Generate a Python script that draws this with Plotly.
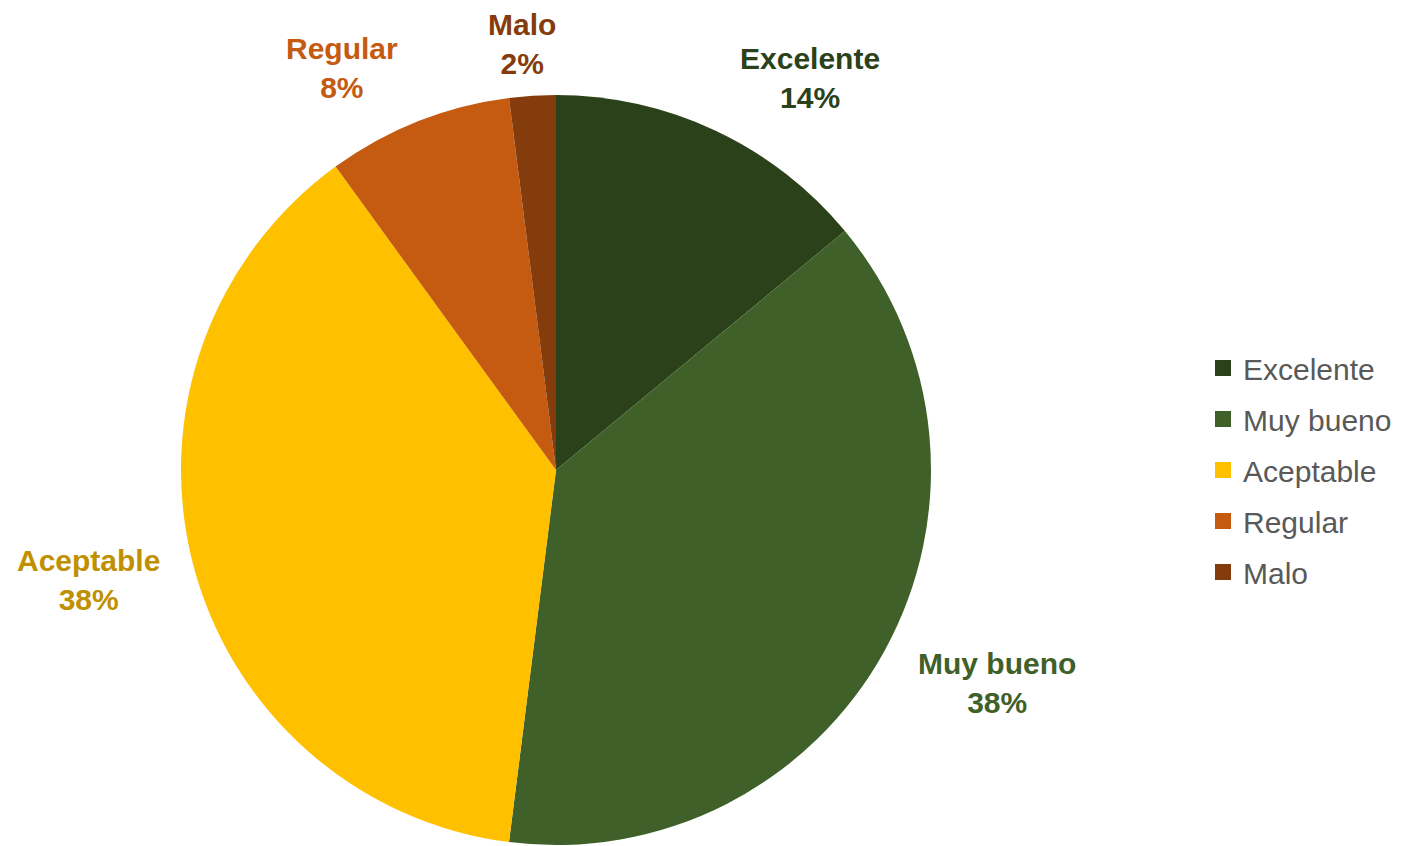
import plotly.graph_objects as go

categories = ["Excelente", "Muy bueno", "Aceptable", "Regular", "Malo"]
values = [14, 38, 38, 8, 2]
slice_colors = ["#2A4119", "#3F6129", "#FFC000", "#C55A11", "#843C0C"]
label_colors = ["#2A4119", "#3F6129", "#BF9000", "#C55A11", "#843C0C"]
# label centre positions (px, from top-left of the browser window)
label_pos = [(810, 78), (997, 683), (88, 580), (342, 68), (522, 44)]

OFF = 8  # default body margin of the html page
W, H = 1405 - OFF, 846 - OFF
cx, cy, R = 556 - OFF, 470 - OFF, 375


def px_x(x):
    return (x - OFF) / W


def px_y(y):
    return 1 - (y - OFF) / H


fig = go.Figure(go.Pie(
    labels=categories,
    values=values,
    sort=False,
    direction="clockwise",
    rotation=0,
    marker=dict(colors=slice_colors, line=dict(width=0)),
    textinfo="none",
    hoverinfo="label+percent",
    showlegend=False,
    domain=dict(x=[(cx - R) / W, (cx + R) / W], y=[1 - (cy + R) / H, 1 - (cy - R) / H]),
))

# legend entries (one per category so spacing can be controlled)
for i, (cat, col) in enumerate(zip(categories, slice_colors)):
    fig.add_trace(go.Scatter(
        x=[None], y=[None], mode="markers", name=cat,
        marker=dict(symbol="square", size=16, color=col),
        legendgroup=f"g{i}", showlegend=True, hoverinfo="skip",
    ))

total = sum(values)
for cat, v, col, (px, py) in zip(categories, values, label_colors, label_pos):
    fig.add_annotation(
        x=px_x(px), y=px_y(py), xref="paper", yref="paper",
        text=f"<b>{cat}<br>{round(100 * v / total)}%</b>",
        showarrow=False, xanchor="center", yanchor="middle",
        borderpad=0,
        font=dict(family="Liberation Sans, Arial", size=30, color=col),
    )

fig.update_layout(
    width=W, height=H,
    margin=dict(l=0, r=0, t=0, b=0),
    paper_bgcolor="white", plot_bgcolor="white",
    font=dict(family="Liberation Sans, Arial", color="#595959"),
    xaxis=dict(visible=False),
    yaxis=dict(visible=False),
    legend=dict(
        x=px_x(1203), y=px_y(470), xanchor="left", yanchor="middle",
        font=dict(size=30, color="#595959"),
        tracegroupgap=9, itemwidth=30,
    ),
    showlegend=True,
)

fig.write_html("out.html")
